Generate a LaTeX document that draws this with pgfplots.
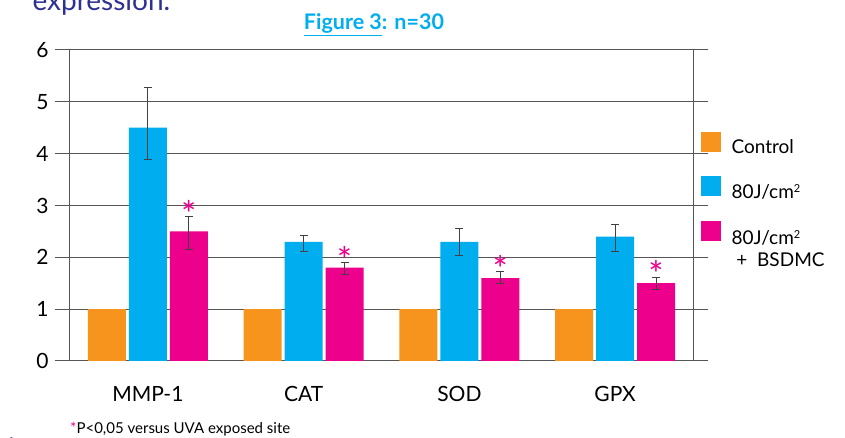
\documentclass[border=0pt]{standalone}
\usepackage{pgfplots}
\pgfplotsset{compat=1.18}
\usepackage{pgfplotstable}
\usepackage{fontspec}
\setmainfont{Lato}
\definecolor{cOrange}{HTML}{F7941D}
\definecolor{cCyan}{HTML}{00AEEF}
\definecolor{cPink}{HTML}{EC008C}
\definecolor{cNavy}{HTML}{2E3192}
\definecolor{cGrid}{HTML}{555555}

% x y ep em
\pgfplotstableread{
x y ep em
0 1 0 0
1 1 0 0
2 1 0 0
3 1 0 0
}\ctrl
\pgfplotstableread{
x y ep em
0 4.5 0.77 0.62
1 2.3 0.12 0.18
2 2.3 0.25 0.27
3 2.4 0.23 0.29
}\uva
\pgfplotstableread{
x y ep em
0 2.5 0.29 0.35
1 1.8 0.10 0.14
2 1.6 0.13 0.11
3 1.5 0.12 0.12
}\bsdmc

\newcommand{\sq}{\textsuperscript{\fontsize{11}{12}\selectfont 2}}

\begin{document}
\begin{tikzpicture}[x=1pt,y=1pt]
\useasboundingbox (-70,-77) rectangle (775,361);
\node[anchor=base west, text=cNavy, font=\fontsize{28}{32}\selectfont] at (-41,350) {expression.};
\node[anchor=base west, text=cNavy, font=\bfseries\fontsize{22}{26}\selectfont] at (-66,-92) {t};
\node[anchor=base, text=cCyan, font=\bfseries\fontsize{21.5}{25}\selectfont] at (304,331) {\underline{Figure 3}: n=30};
\node[anchor=base west, font=\fontsize{15}{18}\selectfont, inner sep=0pt] at (0,-73) {\textcolor{cPink}{*}P<0,05 versus UVA exposed site};
\begin{axis}[
  at={(0,0)}, anchor=south west,
  width=623pt, height=311pt, scale only axis,
  ybar=3pt, bar width=38pt,
  xmin=-0.5, xmax=3.5, ymin=0, ymax=6,
  xtick={0,1,2,3}, xticklabels={MMP-1,CAT,SOD,GPX},
  x tick style={draw=none},
  extra x ticks={0.5,1.5,2.5}, extra x tick labels={},
  extra x tick style={tick align=outside, major tick length=7pt, tick style={cGrid, line width=1pt, draw=cGrid}, grid=none},
  ytick={0,1,2,3,4,5,6},
  tick align=outside, major tick length=15pt,
  y tick style={cGrid, line width=1pt},
  ymajorgrids, grid style={cGrid, line width=1pt},
  axis line style={cGrid, line width=1pt},
  /pgf/number format/assume math mode=true,
  ticklabel style={font=\fontsize{21}{25}\selectfont},
  yticklabel style={xshift=-3pt},
  xticklabel style={yshift=-7pt},
  legend style={draw=none, fill=none, at={(axis description cs:1.007,0.745)}, anchor=north west,
    font=\fontsize{19}{23}\selectfont, row sep=19pt, column sep=9pt,
    cells={anchor=west, inner sep=0pt}},
  legend cell align=left,
  error bars/error bar style={black!75, line width=1pt},
  error bars/error mark options={black!75, line width=1pt, mark size=4pt, rotate=90},
]
\addplot[fill=cOrange, draw=none,
  legend image code/.code={\fill[cOrange] (0pt,-4pt) rectangle (20pt,16pt);}]
  table[x=x, y=y] {\ctrl};
\addlegendentry{Control}
\addplot[fill=cCyan, draw=none,
  error bars/.cd, y dir=both, y explicit,
  /pgfplots/legend image code/.code={\fill[cCyan] (0pt,-4pt) rectangle (20pt,16pt);}]
  table[x=x, y=y, y error plus=ep, y error minus=em] {\uva};
\addlegendentry{80J/cm\sq}
\addplot[fill=cPink, draw=none,
  visualization depends on={\thisrow{ep} \as \ep},
  nodes near coords={*},
  every node near coord/.append style={text=cPink, inner sep=0pt, yshift=\ep*51.83pt-11pt, font=\fontsize{36}{38}\selectfont},
  error bars/.cd, y dir=both, y explicit,
  /pgfplots/legend image code/.code={\fill[cPink] (0pt,-4pt) rectangle (20pt,16pt);}]
  table[x=x, y=y, y error plus=ep, y error minus=em] {\bsdmc};
\addlegendentry{\begin{tabular}[t]{@{}l@{}}80J/cm\sq\\[-1pt]\ +\ \ BSDMC\end{tabular}}
\end{axis}
\end{tikzpicture}
\end{document}
